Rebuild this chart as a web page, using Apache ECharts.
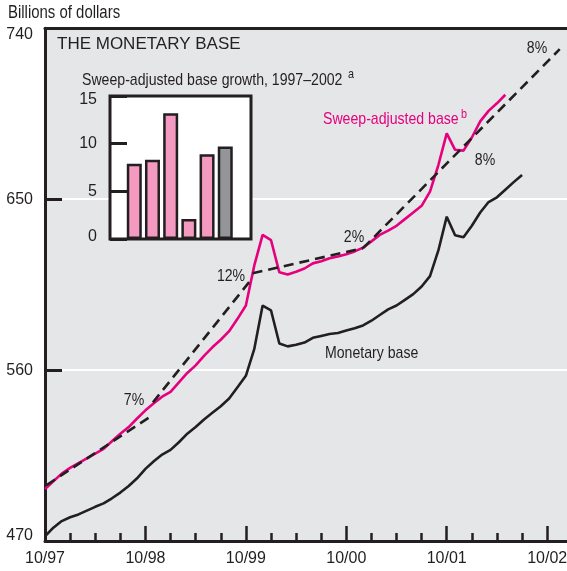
<!DOCTYPE html>
<html><head><meta charset="utf-8">
<script src="https://cdn.jsdelivr.net/npm/echarts@6/dist/echarts.min.js"></script>
<style>html,body{margin:0;padding:0;background:#fff}#c{width:567px;height:571px}</style>
</head><body><div id="c"></div>
<script>
// Months since 10/97
const months = [];
for (let i = 0; i <= 57; i++) months.push(i);
const monetaryBase = [472.5,477,480.5,482.5,484,486,488,489.8,492.5,495.5,499,503,508,512,515.5,518,522,526.5,530,534,537.5,541,545,551,557,571,594,591.5,574,572.5,573.3,574.5,577,578,579,579.5,580.8,582,583.5,586,589,592,594,597,600,604,609.5,623,640.8,631,630,636,643,648.5,651,655,659,662.8];
const sweepAdjusted = [497.4,501.5,505.5,508.5,511,513.5,516,518.5,522.5,526.5,530,534.5,538.8,542.5,546,548.5,553.5,558.5,562.5,567.5,572,576,580.5,587,594,615,631.2,628.5,611.5,610.3,611.8,613.5,616.2,617.3,618.9,619.8,621,622.5,624.5,627.8,631.2,633.5,636,639.5,643,646.5,654,668,684.7,676,675.6,682.5,691,696.5,700.5,705];
const trend7 = [[0.2,499.5],[12.75,536]];
const trend12 = [[12.9,543],[24.6,607.5]];
const trend2 = [[24.8,611],[38,624.2]];
const trend8 = [[38,624.2],[61.5,729]];
const xTickLabels = ['10/97','10/98','10/99','10/00','10/01','10/02','10/03'];
const insetYears = [1997,1998,1999,2000,2001,2002];
const insetGrowth = [7.9,8.3,13.2,2.1,8.9,9.7];
const insetColors = ['#f49ac1','#f49ac1','#f49ac1','#f49ac1','#f49ac1','#939598'];

const FONT = '"Liberation Sans", Arial, sans-serif';
const TXT = '#231f20';
const MAG = '#e6007e';
const NARROW = 0.83;

const chart = echarts.init(document.getElementById('c'), null, {renderer:'canvas'});
const pairs = (xs, ys) => ys.map((v,i)=>[xs[i], v]);
const txt = (s, x, y, opts) => Object.assign({type:'text', x:x, y:y, z:10, scaleX:NARROW,
  style:{text:s, font:'17px '+FONT, fill:TXT, textVerticalAlign:'middle'}}, opts||{});

chart.setOption({
  animation: false,
  backgroundColor: '#ffffff',
  grid: [
    {left:45, top:28.3, width:602.6, bottom:30, show:true, backgroundColor:'#e5e6e8', borderWidth:0, z:0,
     outerBoundsMode:'none', containLabel:false},
    {left:110, top:96, width:141, height:143, show:true, backgroundColor:'#ffffff', borderColor:'#231f20', borderWidth:3, z:5,
     outerBoundsMode:'none', containLabel:false}
  ],
  xAxis: [
    {type:'value', gridIndex:0, min:0, max:72, interval:12,
     axisLine:{show:true, lineStyle:{color:'#231f20', width:3}},
     axisTick:{show:true, inside:true, length:15, lineStyle:{color:'#231f20', width:2.5}},
     minorTick:{show:true, splitNumber:4, length:8, lineStyle:{color:'#231f20', width:2.5}},
     splitLine:{show:false},
     axisLabel:{margin:10, color:TXT, fontFamily:FONT, fontSize:16,
       formatter:(v)=> (v%12===0 ? (xTickLabels[v/12]||'') : '')}},
    {type:'value', gridIndex:0, min:0, max:72, position:'top',
     axisLine:{show:true, lineStyle:{color:'#231f20', width:3}},
     axisTick:{show:false}, axisLabel:{show:false}, splitLine:{show:false}},
    {type:'value', gridIndex:1, min:1995.665, max:2003.415, show:false, z:5}
  ],
  yAxis: [
    {type:'value', gridIndex:0, min:470, max:740, interval:90,
     axisLine:{show:true, lineStyle:{color:'#231f20', width:3}},
     axisTick:{show:true, inside:true, length:17, lineStyle:{color:'#231f20', width:3}},
     splitLine:{show:true, showMinLine:false, showMaxLine:false, lineStyle:{color:'#ffffff', width:2}},
     axisLabel:{margin:12, color:TXT, fontFamily:FONT, fontSize:16,
       formatter:(v)=> v===740 ? '{t|740}' : (v===470 ? '{b|470}' : String(v)),
       rich:{t:{padding:[13,0,0,0], fontFamily:FONT, fontSize:16, color:TXT},
             b:{padding:[0,0,10,0], fontFamily:FONT, fontSize:16, color:TXT}}}},
    {type:'value', gridIndex:1, min:0, max:15, interval:5, z:6,
     axisLine:{show:false},
     axisTick:{show:true, inside:true, length:17, lineStyle:{color:'#231f20', width:3}},
     splitLine:{show:false},
     axisLabel:{margin:13, color:TXT, fontFamily:FONT, fontSize:16,
       formatter:(v)=> v===15 ? '{t|15}' : (v===0 ? '{b|0}' : String(v)),
       rich:{t:{padding:[8,0,0,0], fontFamily:FONT, fontSize:16, color:TXT},
             b:{padding:[0,0,4,0], fontFamily:FONT, fontSize:16, color:TXT}}}}
  ],
  series: [
    {type:'line', xAxisIndex:0, yAxisIndex:0, data:pairs(months, monetaryBase), showSymbol:false, symbol:'none',
     lineStyle:{color:'#231f20', width:2.6}, z:3},
    {type:'line', xAxisIndex:0, yAxisIndex:0, data:pairs(months, sweepAdjusted), showSymbol:false, symbol:'none',
     lineStyle:{color:MAG, width:2.6}, z:3},
    ...[trend7, trend12, trend2, trend8].map(d=>({type:'line', xAxisIndex:0, yAxisIndex:0, data:d, symbol:'none',
     lineStyle:{color:'#231f20', width:2.6, type:[10,6]}, z:4})),
    {type:'bar', xAxisIndex:2, yAxisIndex:1, barWidth:15, z:7,
     data: insetGrowth.map((v,i)=>({value:[insetYears[i], v], itemStyle:{color:insetColors[i]}})),
     itemStyle:{borderColor:'#231f20', borderWidth:2.5}}
  ],
  graphic: [
    txt('Billions of dollars', 8, 13, {style:{text:'Billions of dollars', font:'18px '+FONT, fill:TXT, textVerticalAlign:'middle'}}),
    txt('THE MONETARY BASE', 57, 44, {scaleX:1.0, style:{text:'THE MONETARY BASE', font:'17px '+FONT, fill:TXT, textVerticalAlign:'middle'}}),
    txt('Sweep-adjusted base growth, 1997–2002', 82, 80),
    txt('a', 348, 74, {style:{text:'a', font:'13px '+FONT, fill:TXT, textVerticalAlign:'middle'}}),
    txt('Sweep-adjusted base', 323, 119, {style:{text:'Sweep-adjusted base', font:'17px '+FONT, fill:MAG, textVerticalAlign:'middle'}}),
    txt('b', 461, 114, {style:{text:'b', font:'13px '+FONT, fill:MAG, textVerticalAlign:'middle'}}),
    txt('Monetary base', 325, 353),
    txt('7%', 134, 400, {style:{text:'7%', font:'17px '+FONT, fill:TXT, textAlign:'center', textVerticalAlign:'middle'}}),
    txt('12%', 231, 276, {style:{text:'12%', font:'17px '+FONT, fill:TXT, textAlign:'center', textVerticalAlign:'middle'}}),
    txt('2%', 354, 237, {style:{text:'2%', font:'17px '+FONT, fill:TXT, textAlign:'center', textVerticalAlign:'middle'}}),
    txt('8%', 485, 160, {style:{text:'8%', font:'17px '+FONT, fill:TXT, textAlign:'center', textVerticalAlign:'middle'}}),
    txt('8%', 537, 48, {style:{text:'8%', font:'17px '+FONT, fill:TXT, textAlign:'center', textVerticalAlign:'middle'}})
  ]
});
</script></body></html>
